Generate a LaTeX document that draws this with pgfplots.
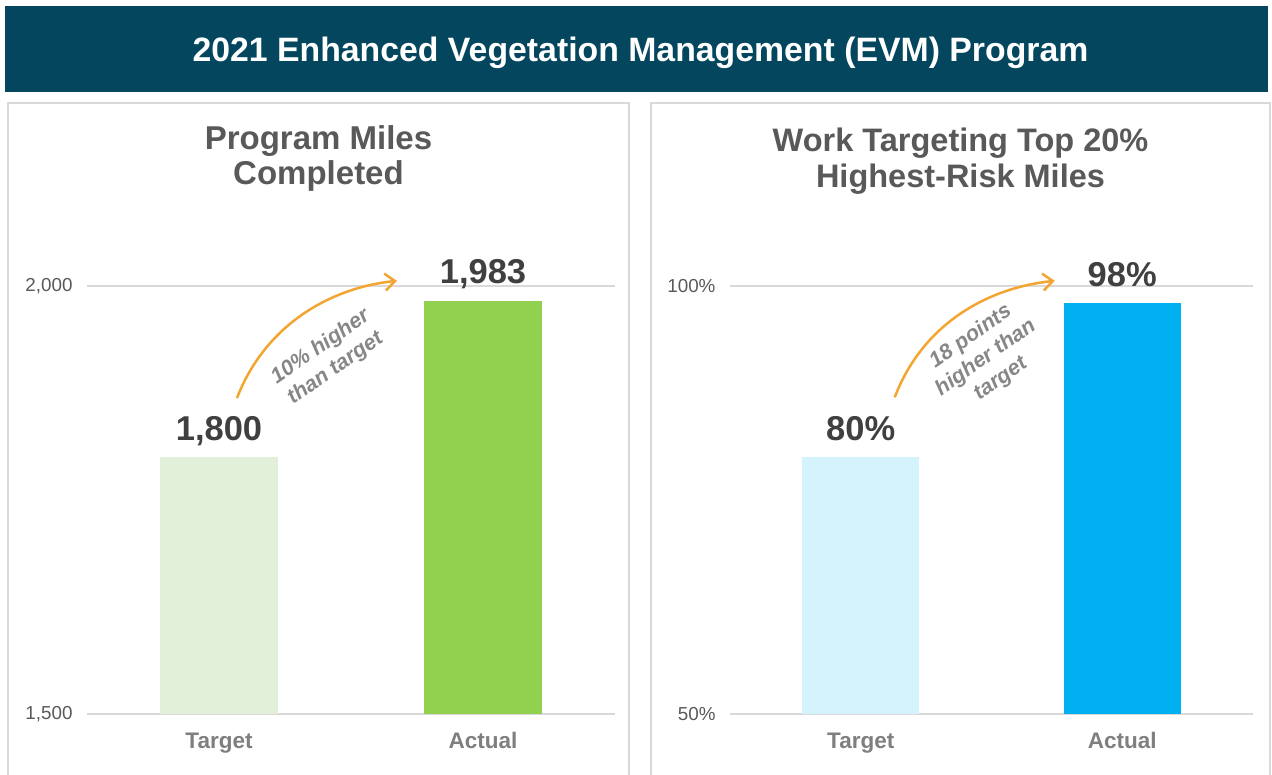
\documentclass[border=0pt]{standalone}
\usepackage{fontspec}
\setmainfont{Liberation Sans}
\usepackage{pgfplots}
\pgfplotsset{compat=1.18}
\usetikzlibrary{arrows.meta}
\definecolor{banner}{HTML}{03465E}
\definecolor{panelline}{HTML}{D9D9D9}
\definecolor{gridc}{HTML}{D9D9D9}
\definecolor{titlec}{HTML}{595959}
\definecolor{valc}{HTML}{404040}
\definecolor{catc}{HTML}{7F7F7F}
\definecolor{tickc}{HTML}{595959}
\definecolor{arrowc}{HTML}{F2A631}
\definecolor{notec}{HTML}{878787}
\definecolor{lgreen}{HTML}{E2F0D9}
\definecolor{dgreen}{HTML}{92D050}
\definecolor{lblue}{HTML}{D5F3FC}
\definecolor{dblue}{HTML}{00B0F0}
\pgfplotsset{
  evm/.style={
    scale only axis, height=428pt,
    xmin=-0.5, xmax=1.5, xtick={0,1}, xticklabels={Target,Actual},
    ymajorgrids, grid style={gridc, line width=1.4pt},
    axis line style={draw=none}, major tick length=0pt,
    xticklabel style={font=\fontsize{22.5}{26}\selectfont\bfseries, text=catc, anchor=base, yshift=-35pt},
    yticklabel style={font=\fontsize{18.8}{21}\selectfont, text=tickc, xshift=-11pt},
    /pgf/number format/assume math mode=true,
    every node near coord/.append style={anchor=base, yshift=17pt, font=\fontsize{34.5}{38}\selectfont\bfseries, text=valc},
  }
}
\begin{document}
\begin{tikzpicture}[x=1pt,y=1pt]
\useasboundingbox (0pt,0pt) rectangle (1272pt,775pt);
\fill[white] (0pt,0pt) rectangle (1272pt,775pt);
\fill[banner] (5pt,683pt) rectangle (1268pt,769pt);
\node[anchor=base, text=white, font=\fontsize{33.8}{40}\selectfont\bfseries] at (640.5pt,713pt) {2021 Enhanced Vegetation Management (EVM) Program};
\draw[panelline, line width=2pt] (8pt,-5pt) -- (8pt,672pt) -- (629pt,672pt) -- (629pt,-5pt);
\draw[panelline, line width=2pt] (651pt,-5pt) -- (651pt,672pt) -- (1270pt,672pt) -- (1270pt,-5pt);
\node[anchor=base, text=titlec, font=\fontsize{33}{38}\selectfont\bfseries] at (318.5pt,625pt) {Program Miles};
\node[anchor=base, text=titlec, font=\fontsize{33}{38}\selectfont\bfseries] at (318.5pt,590pt) {Completed};
\node[anchor=base, text=titlec, font=\fontsize{32.5}{38}\selectfont\bfseries] at (960.5pt,623pt) {Work Targeting Top 20\%};
\node[anchor=base, text=titlec, font=\fontsize{32.5}{38}\selectfont\bfseries] at (960.5pt,587pt) {Highest-Risk Miles};

\begin{axis}[evm, at={(87pt,61pt)}, anchor=south west, width=528pt,
  ymin=1500, ymax=2000, ytick={1500,2000}, yticklabels={{1,500},{2,000}}]
\addplot[ybar, bar shift=0pt, bar width=0.446, fill=lgreen, draw=none,
  nodes near coords={\pgfmathprintnumber[1000 sep={,}]{\pgfplotspointmeta}}]
  coordinates {(0,1800)};
\addplot[ybar, bar shift=0pt, bar width=0.446, fill=dgreen, draw=none,
  nodes near coords={\pgfmathprintnumber[1000 sep={,}]{\pgfplotspointmeta}}]
  coordinates {(1,1983)};
\coordinate (la0) at (axis cs:0.068,1869);
\coordinate (la1) at (axis cs:0.174,1954);
\coordinate (la2) at (axis cs:0.420,1998);
\coordinate (la3) at (axis cs:0.674,2006);
\coordinate (lt) at (axis cs:0.413,1916);
\end{axis}

\begin{axis}[evm, at={(730pt,61pt)}, anchor=south west, width=523pt,
  ymin=50, ymax=100, ytick={50,100}, yticklabels={{50\%},{100\%}}]
\addplot[ybar, bar shift=0pt, bar width=0.446, fill=lblue, draw=none,
  nodes near coords={\pgfmathprintnumber{\pgfplotspointmeta}\%}]
  coordinates {(0,80)};
\addplot[ybar, bar shift=0pt, bar width=0.446, fill=dblue, draw=none,
  nodes near coords={\pgfmathprintnumber{\pgfplotspointmeta}\%}]
  coordinates {(1,98)};
\coordinate (ra0) at (axis cs:0.130,87.0);
\coordinate (ra1) at (axis cs:0.237,95.6);
\coordinate (ra2) at (axis cs:0.486,99.8);
\coordinate (ra3) at (axis cs:0.742,100.6);
\coordinate (rt) at (axis cs:0.478,91.6);
\end{axis}

\draw[arrowc, line width=2.5pt, -{Straight Barb[length=10pt,width=17pt]}] (la0) .. controls (la1) and (la2) .. (la3);
\draw[arrowc, line width=2.5pt, -{Straight Barb[length=10pt,width=17pt]}] (ra0) .. controls (ra1) and (ra2) .. (ra3);
\node[rotate=35, align=center, text=notec, font=\fontsize{21.5}{26}\selectfont\bfseries\itshape] at (lt) {10\% higher\\than target};
\node[rotate=35, align=center, text=notec, font=\fontsize{21.5}{26}\selectfont\bfseries\itshape] at (rt) {18 points\\higher than\\target};
\end{tikzpicture}
\end{document}
